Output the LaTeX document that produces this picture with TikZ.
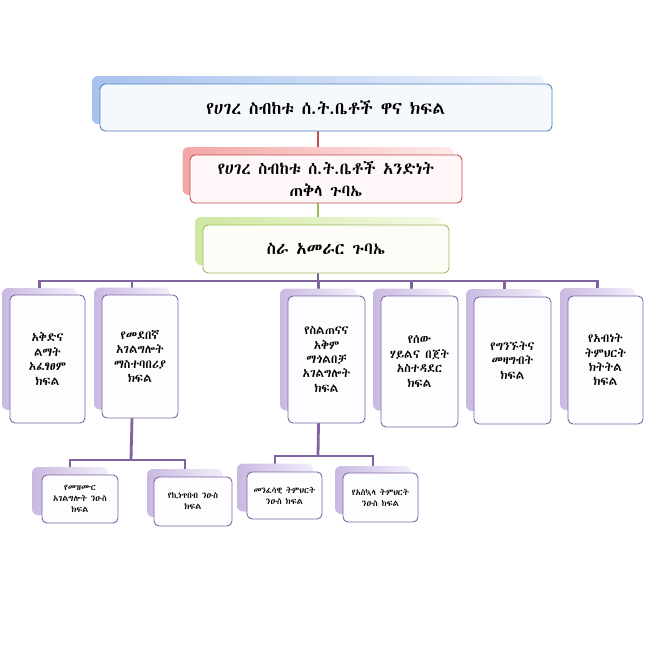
\documentclass[tikz,border=0pt]{standalone}
\usepackage{fontspec}
\IfFontExistsTF{Abyssinica SIL}{\setmainfont{Abyssinica SIL}}{%
  \IfFontExistsTF{FreeSerif.otf}{\setmainfont{FreeSerif.otf}}{%
    \IfFontExistsTF{FreeSerif}{\setmainfont{FreeSerif}}{%
      \setmainfont{DejaVu Sans}}}}
\usetikzlibrary{backgrounds}
\definecolor{cbD}{HTML}{4F81BD}\definecolor{cbF}{HTML}{F5F8FD}
\definecolor{cbL}{HTML}{A7C2EE}\definecolor{cbR}{HTML}{EEF3FC}
\definecolor{crD}{HTML}{C0504D}\definecolor{crF}{HTML}{FFF7F7}
\definecolor{crL}{HTML}{F3A6A5}\definecolor{crR}{HTML}{FDEAEA}
\definecolor{cgD}{HTML}{9BBB59}\definecolor{cgF}{HTML}{FBFDF6}
\definecolor{cgL}{HTML}{CFE7A0}\definecolor{cgR}{HTML}{F4FAE6}
\definecolor{cpD}{HTML}{8064A2}\definecolor{cpF}{HTML}{FDFCFF}
\definecolor{cpL}{HTML}{C9B9E1}\definecolor{cpR}{HTML}{F2EEF9}
\begin{document}
\begin{tikzpicture}[x=1pt,y=-1pt,
  shd/.style={rounded corners=6pt, left color=#1L, right color=#1R, inner sep=0pt, outer sep=0pt},
  mbox/.style={draw=#1D, fill=#1F, rounded corners=5pt, line width=0.9pt, inner sep=0pt, outer sep=0pt, align=center},
  sz/.style 2 args={minimum width=#1pt, minimum height=#2pt},
  link/.style={draw=#1D, line width=2.8pt},
  tfont/.style={font=\fontsize{17.4}{21}\selectfont},
  gfont/.style={font=\fontsize{16.8}{21}\selectfont},
  afont/.style={font=\fontsize{16.5}{22}\selectfont},
  bfont/.style={font=\fontsize{12}{14.4}\selectfont},
  sfont/.style={font=\fontsize{8.5}{11}\selectfont}]
\useasboundingbox (0,0) rectangle (656,656);

% top level
\node[shd=cb, sz={452}{48}] (sT) at (318,100) {};
\node[mbox=cb, sz={452}{47}, tfont] (T) at (326,107.5) {የሀገረ ስብከቱ ሰ.ት.ቤቶች ዋና ክፍል};
\node[shd=cr, sz={271}{48}] (sA) at (318,171) {};
\node[mbox=cr, sz={272}{48}, afont] (A) at (326,179) {የሀገረ ስብከቱ ሰ.ት.ቤቶች አንድነት\\ጠቅላ ጉባኤ};
\node[shd=cg, sz={246}{48}] (sG) at (318,241) {};
\node[mbox=cg, sz={246}{48}, gfont] (G) at (326,249) {ስራ አመራር ጉባኤ};

% second level
\node[shd=cp, sz={75}{122}] (s1) at (39.5,349) {};
\node[mbox=cp, sz={75}{128}, bfont] (b1) at (47.5,359) {አቅድና\\ልማት\\አፈፃፀም\\ክፍል};
\node[shd=cp, sz={76}{122}] (s2) at (132,348.5) {};
\node[mbox=cp, sz={76}{123}, bfont] (b2) at (140,356.5) {የመደበኛ\\አገልግሎት\\ማስተባበሪያ\\ክፍል};
\node[shd=cp, sz={77}{122}] (s3) at (318.5,349.5) {};
\node[mbox=cp, sz={77}{127}, bfont] (b3) at (326.5,359.5) {የስልጠናና\\አቅም\\ማጎልበቻ\\አገልግሎት\\ክፍል};
\node[shd=cp, sz={77}{122}] (s4) at (411.5,349.5) {};
\node[mbox=cp, sz={77}{131}, bfont] (b4) at (419.5,361.5) {የሰው\\ሃይልና በጀት\\አስተዳደር\\ክፍል};
\node[shd=cp, sz={77}{122}] (s5) at (504.5,350) {};
\node[mbox=cp, sz={77}{127}, bfont] (b5) at (512.5,360.5) {የግንኙትና\\መዛግብት\\ክፍል};
\node[shd=cp, sz={75}{122}] (s6) at (597.5,349) {};
\node[mbox=cp, sz={75}{128}, bfont] (b6) at (605.5,360) {የአብነት\\ትምህርት\\ክትትል\\ክፍል};

% third level
\node[shd=cp, sz={76}{48}] (t1) at (70,491) {};
\node[mbox=cp, sz={76}{48}, sfont] (u1) at (80,499) {የመዝሙር\\አገልግሎት ንዑስ\\ክፍል};
\node[shd=cp, sz={76}{48}] (t2) at (185,493) {};
\node[mbox=cp, sz={78}{49}, sfont] (u2) at (193,501.5) {የኪነጥበብ ንዑስ\\ክፍል};
\node[shd=cp, sz={76}{48}] (t3) at (275,487.5) {};
\node[mbox=cp, sz={75}{47}, sfont] (u3) at (284.5,495.5) {መንፈሳዊ ትምህርት\\ንዑስ ክፍል};
\node[shd=cp, sz={76}{48}] (t4) at (373,490) {};
\node[mbox=cp, sz={75}{49}, sfont] (u4) at (380.5,497.5) {የአስኳላ ትምህርት\\ንዑስ ክፍል};

\coordinate (bus) at (318,281);
\coordinate (busL) at (131,460);
\coordinate (busM) at (318,456);

\begin{scope}[on background layer]
\fill[white] (0,0) rectangle (656,656);
\draw[link=cr] (sT.south) -- (sA.north);
\draw[link=cg] (sA.south) -- (sG.north);
\draw[link=cp] (G.south -| sG.south) -- (bus);
\draw[link=cp] (s1.north) |- (bus) -| (s6.north);
\foreach \n in {2,3,4,5} \draw[link=cp] (bus -| s\n.north) -- (s\n.north);
\draw[link=cp] (b2.south -| s2.south) -- (busL);
\draw[link=cp] (t1.north) |- (busL) -| (t2.north);
\draw[link=cp] (b3.south -| s3.south) -- (busM);
\draw[link=cp] (t3.north) |- (busM) -| (t4.north);
\end{scope}
\end{tikzpicture}
\end{document}
